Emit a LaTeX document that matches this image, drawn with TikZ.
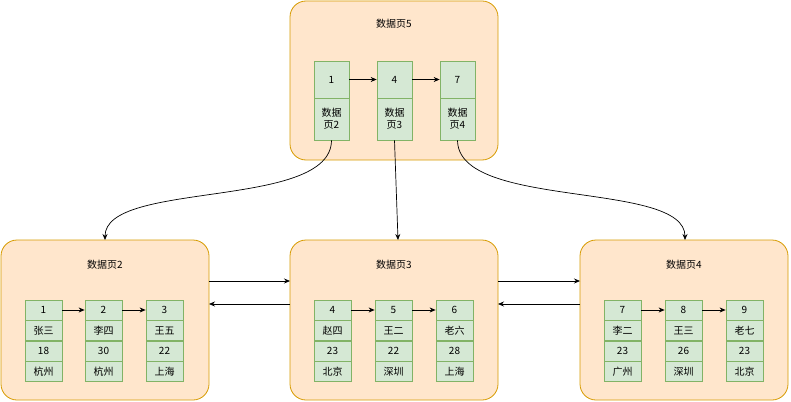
\documentclass[tikz,border=0pt]{standalone}
\usepackage{fontspec}
\setmainfont{Noto Sans CJK SC}
\usetikzlibrary{arrows.meta}
\definecolor{boxf}{HTML}{FFE6CC}\definecolor{boxd}{HTML}{D79B00}
\definecolor{cellf}{HTML}{D5E8D4}\definecolor{celld}{HTML}{82B366}
\tikzset{x=1pt,y=-1pt,
 page/.style={draw=boxd,fill=boxf,rounded corners=16pt,line width=0.8pt},
 cell/.style={draw=celld,fill=cellf,line width=0.7pt,inner sep=0pt,align=center,font=\fontsize{10}{12}\selectfont},
 ttl/.style={font=\fontsize{10}{12}\selectfont},
 arr/.style={-{Stealth[length=6pt,width=5pt]},line width=0.7pt}}
\newcommand{\col}[7]{% prefix, x, t1..t4
 \node[cell,minimum width=37pt,minimum height=20.3pt] (#1a) at (#2+18.5,310) {#3};
 \node[cell,minimum width=37pt,minimum height=20.3pt] (#1b) at (#2+18.5,330.5) {#4};
 \node[cell,minimum width=37pt,minimum height=20.3pt] (#1c) at (#2+18.5,351) {#5};
 \node[cell,minimum width=37pt,minimum height=20.3pt] (#1d) at (#2+18.5,371.3) {#6};}
\begin{document}
\begin{tikzpicture}
\useasboundingbox (0,0) rectangle (791,401);
\draw[page] (290,1) rectangle (498,160); \node[ttl] (t5) at (394,24) {数据页5};
\draw[page] (1,240) rectangle (209,400); \node[ttl] (t2) at (105,265) {数据页2};
\draw[page] (290,240) rectangle (498,400); \node[ttl] (t3) at (394,265) {数据页3};
\draw[page] (580,240) rectangle (788,400); \node[ttl] (t4) at (684,265) {数据页4};
\coordinate (p2) at (105,240); \coordinate (p3) at (398,240); \coordinate (p4) at (685,240);
\coordinate (b1r1) at (209,281); \coordinate (b2l1) at (290,281);
\coordinate (b1r2) at (209,304); \coordinate (b2l2) at (290,304);
\coordinate (b2r1) at (498,281); \coordinate (b3l1) at (580,281);
\coordinate (b2r2) at (498,304); \coordinate (b3l2) at (580,304);
\foreach \n/\x/\k/\p in {u/314/1/2,v/377/4/3,w/440/7/4}{
 \node[cell,minimum width=35pt,minimum height=37pt] (\n a) at (\x+17.5,79.5) {\k};
 \node[cell,minimum width=35pt,minimum height=42pt] (\n b) at (\x+17.5,119) {数据\\页\p};}
\draw[arr] (ua) -- (va); \draw[arr] (va) -- (wa);
\draw[arr] (ub.south) .. controls (331,210) and (105,180) .. (p2);
\draw[arr] (vb.south) -- (p3);
\draw[arr] (wb.south) .. controls (458,210) and (685,180) .. (p4);
\draw[arr] (b1r1) -- (b2l1); \draw[arr] (b2l2) -- (b1r2);
\draw[arr] (b2r1) -- (b3l1); \draw[arr] (b3l2) -- (b2r2);
\col{a}{25}{1}{张三}{18}{杭州}{}
\col{b}{85}{2}{李四}{30}{杭州}{}
\col{c}{146}{3}{王五}{22}{上海}{}
\col{d}{314}{4}{赵四}{23}{北京}{}
\col{e}{375}{5}{王二}{22}{深圳}{}
\col{f}{436}{6}{老六}{28}{上海}{}
\col{g}{604}{7}{李二}{23}{广州}{}
\col{h}{665}{8}{王三}{26}{深圳}{}
\col{i}{726}{9}{老七}{23}{北京}{}
\draw[arr] (aa) -- (ba); \draw[arr] (ba) -- (ca);
\draw[arr] (da) -- (ea); \draw[arr] (ea) -- (fa);
\draw[arr] (ga) -- (ha); \draw[arr] (ha) -- (ia);
\end{tikzpicture}
\end{document}
